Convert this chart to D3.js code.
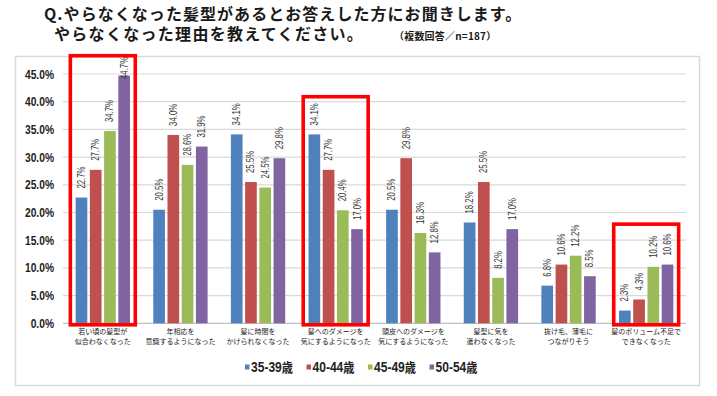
<!DOCTYPE html>
<html><head><meta charset="utf-8">
<script src="https://cdn.jsdelivr.net/npm/d3@7"></script>
<style>
html,body{margin:0;padding:0;background:#fff;}
svg{display:block;}
.jp{font-family:"Noto Sans CJK JP","Noto Sans CJK SC",sans-serif;}
.nr{font-family:"Liberation Sans",Arial,sans-serif;}
</style></head>
<body>
<svg id="c" width="717" height="396"></svg>
<script>
const categories = [
  ["若い頃の髪型が","似合わなくなった"],
  ["年相応を","意識するようになった"],
  ["髪に時間を","かけられなくなった"],
  ["髪へのダメージを","気にするようになった"],
  ["頭皮へのダメージを","気にするようになった"],
  ["髪型に気を","遣わなくなった"],
  ["抜け毛、薄毛に","つながりそう"],
  ["髪のボリューム不足で","できなくなった"]
];
const seriesNames = ["35-39歳","40-44歳","45-49歳","50-54歳"];
const s3539 = [22.7, 20.5, 34.1, 34.1, 20.5, 18.2, 6.8, 2.3];
const s4044 = [27.7, 34.0, 25.5, 27.7, 29.8, 25.5, 10.6, 4.3];
const s4549 = [34.7, 28.6, 24.5, 20.4, 16.3, 8.2, 12.2, 10.2];
const s5054 = [44.7, 31.9, 29.8, 17.0, 12.8, 17.0, 8.5, 10.6];
const yTicks = [0,5,10,15,20,25,30,35,40,45];
// highlighted groups: category index and top value of the frame
const highlightIdx = [0, 3, 7];
const highlightTop = [48.3, 40.9, 17.9];

const seriesValues = [s3539, s4044, s4549, s5054];
const colors = ["#4F81BD","#C0504D","#9BBB59","#8064A2"];

const svg = d3.select("#c");

// title
const t = svg.append("g").attr("class","jp").attr("font-weight","bold").attr("fill","#1a1a1a");
t.append("text").attr("x",44).attr("y",19.5).attr("font-size",16).attr("letter-spacing",1.05)
  .text("Q.やらなくなった髪型があるとお答えした方にお聞きします。");
t.append("text").attr("x",54).attr("y",40).attr("font-size",16).attr("letter-spacing",1.3)
  .text("やらなくなった理由を教えてください。");
t.append("text").attr("x",394).attr("y",39.5).attr("font-size",10).attr("letter-spacing",0.2)
  .text("（複数回答／n=187）");

// frame
svg.append("rect").attr("x",15.5).attr("y",56.5).attr("width",684).attr("height",329)
  .attr("fill","#fff").attr("stroke","#d9d9d9").attr("stroke-width",1.5);

const x0 = d3.scaleBand().domain(d3.range(categories.length)).range([64,685]).paddingInner(0.3).paddingOuter(0.15);
const x1 = d3.scaleBand().domain(d3.range(seriesNames.length)).range([0,x0.bandwidth()]).paddingInner(0.18);
const y = d3.scaleLinear().domain([0,45]).range([323.3,74]);

// grid
svg.append("g").selectAll("line").data(yTicks.filter(d=>d>0)).join("line")
  .attr("x1",63).attr("x2",686).attr("y1",d=>y(d)).attr("y2",d=>y(d))
  .attr("stroke","#d9d9d9").attr("stroke-width",1.2);
svg.append("line").attr("x1",63).attr("x2",686).attr("y1",y(0)).attr("y2",y(0))
  .attr("stroke","#c0c0c0").attr("stroke-width",1.2);

// y labels (condensed)
svg.append("g").selectAll("text").data(yTicks).join("text")
  .attr("class","nr").attr("transform",d=>`translate(54,${y(d)}) scale(0.82,1)`).attr("dy","0.36em")
  .attr("text-anchor","end").attr("font-size",12.5).attr("font-weight","bold").attr("fill","#222")
  .text(d=>d3.format(".1f")(d)+"%");

// bars
const groups = svg.append("g").selectAll("g").data(categories).join("g")
  .attr("transform",(d,i)=>`translate(${x0(i)},0)`);
groups.each(function(c,ci){
  const g = d3.select(this);
  seriesValues.forEach((vals,si)=>{
    const v = vals[ci];
    g.append("rect").attr("x",x1(si)).attr("y",y(v)).attr("width",x1.bandwidth())
      .attr("height",y(0)-y(v)).attr("fill",colors[si]);
    const cx = x1(si)+x1.bandwidth()/2;
    const ly = Math.max(y(v)-9, 79);
    g.append("text").attr("class","nr").attr("font-size",10).attr("fill","#333")
      .attr("transform",`translate(${cx},${ly}) rotate(-90) scale(0.78,1)`).attr("dy","0.35em")
      .text(d3.format(".1f")(v)+"%");
  });
});

// highlight frames
svg.append("g").selectAll("rect").data(highlightIdx).join("rect")
  .attr("x",d=>x0(d)-5.3).attr("width",x0.bandwidth()+10.6)
  .attr("y",(d,i)=>y(highlightTop[i])).attr("height",(d,i)=>y(0)+1.5-y(highlightTop[i]))
  .attr("fill","none").attr("stroke","#ff0000").attr("stroke-width",3.6);

// x labels
const xl = svg.append("g").attr("class","jp").attr("font-size",7).attr("fill","#222");
categories.forEach((c,i)=>{
  c.forEach((line,li)=>{
    xl.append("text").attr("x",x0(i)+x0.bandwidth()/2).attr("y",331.7+li*10).attr("dy","0.35em")
      .attr("text-anchor","middle").text(line);
  });
});

// legend
const lg = svg.append("g").selectAll("g").data(seriesNames).join("g")
  .attr("transform",(d,i)=>`translate(${245+i*61.5},367)`);
lg.append("rect").attr("x",0).attr("y",-2.5).attr("width",4.5).attr("height",5).attr("fill",(d,i)=>colors[i]);
const lt = lg.append("text").attr("transform","translate(6,0) scale(0.86,1)").attr("dy","0.36em")
  .attr("font-size",14).attr("font-weight","bold").attr("fill","#222").attr("class","nr");
lt.append("tspan").text(d=>d.replace("歳",""));
lt.append("tspan").attr("class","jp").attr("font-size",13).text("歳");
</script>
</body></html>
